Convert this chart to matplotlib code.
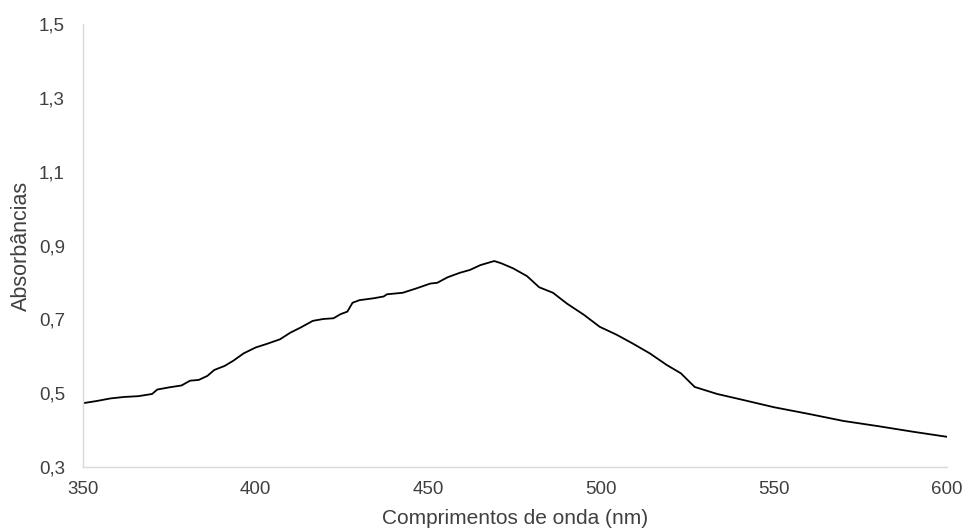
import matplotlib
matplotlib.use("Agg")
import matplotlib.pyplot as plt
from matplotlib.ticker import FuncFormatter

# Espectro de absorção
comprimentos = [350, 354, 358, 362, 366, 370, 371.5, 375, 378.5, 381, 383.5, 386, 388,
                391, 393.5, 396.5, 400, 403, 407, 410, 413, 416.5, 419.5, 422.5, 424.5,
                426.5, 428, 430, 434, 437, 438, 442.5, 446.5, 450.5, 452.5, 455.5, 459,
                462, 465, 469, 471, 474.5, 478.5, 482, 486, 490, 495, 499.5, 504.5, 509,
                514, 519, 523, 527, 533.5, 540, 550, 560, 570, 580, 590, 600]
absorbancias = [0.473, 0.479, 0.486, 0.490, 0.492, 0.498, 0.510, 0.516, 0.521, 0.534, 0.536,
                0.547, 0.563, 0.574, 0.588, 0.608, 0.624, 0.633, 0.646, 0.664, 0.678, 0.696,
                0.701, 0.703, 0.714, 0.721, 0.745, 0.752, 0.757, 0.762, 0.768, 0.772, 0.784,
                0.797, 0.799, 0.814, 0.826, 0.834, 0.847, 0.858, 0.852, 0.838, 0.817, 0.787,
                0.772, 0.743, 0.712, 0.680, 0.658, 0.635, 0.608, 0.576, 0.554, 0.517, 0.498,
                0.484, 0.462, 0.444, 0.425, 0.411, 0.396, 0.382]

x_ticks = [350, 400, 450, 500, 550, 600]
y_ticks = [0.3, 0.5, 0.7, 0.9, 1.1, 1.3, 1.5]

plt.rcParams['font.family'] = ['Liberation Sans', 'DejaVu Sans']

fig = plt.figure(figsize=(9.68, 5.32), dpi=100)
ax = fig.add_axes([0.0857, 0.122, 0.8926, 0.833])

ax.plot(comprimentos, absorbancias, color='black', linewidth=1.3)

ax.set_xlim(350, 600)
ax.set_ylim(0.3, 1.5)
ax.set_xticks(x_ticks)
ax.set_yticks(y_ticks)
ax.yaxis.set_major_formatter(FuncFormatter(lambda v, p: f"{v:.1f}".replace('.', ',')))

for s in ['top', 'right']:
    ax.spines[s].set_visible(False)
for s in ['left', 'bottom']:
    ax.spines[s].set_color('#d9d9d9')
    ax.spines[s].set_linewidth(1.0)

ax.tick_params(axis='both', length=0, labelsize=13.5, labelcolor='#404040')
ax.tick_params(axis='y', pad=13)
ax.tick_params(axis='x', pad=10)

ax.set_xlabel("Comprimentos de onda (nm)", fontsize=15, color='#404040', labelpad=8)
ax.set_ylabel("Absorbâncias", fontsize=15.5, color='#404040', labelpad=5)

fig.savefig("out.png", dpi=100)
